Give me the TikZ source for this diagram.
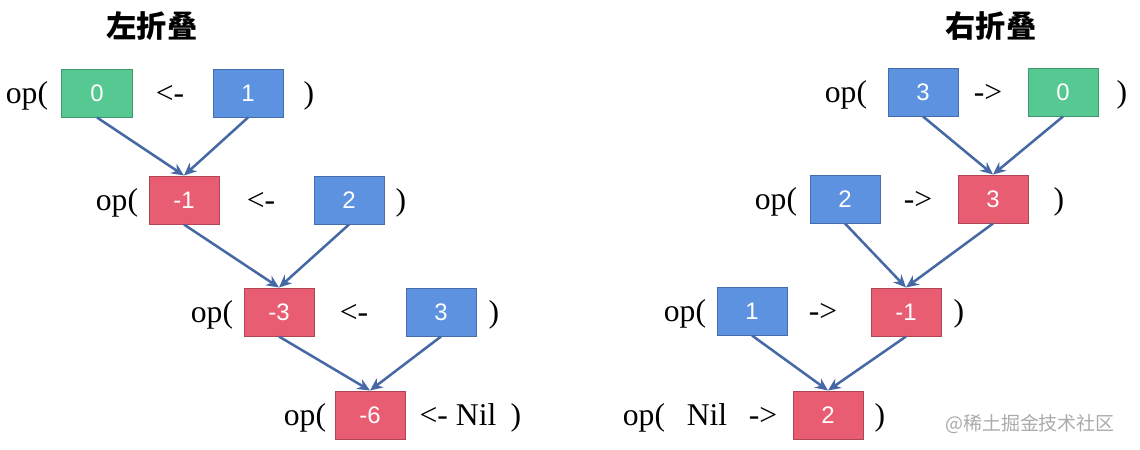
\documentclass[tikz,border=0pt]{standalone}
\usepackage{fontspec}
\setmainfont{Liberation Serif}
\setsansfont{Liberation Sans}
\newfontfamily\cjk{Noto Sans CJK SC}
\usetikzlibrary{arrows.meta}

\definecolor{foldgreen}{RGB}{86,200,145}
\definecolor{foldblue}{RGB}{93,146,225}
\definecolor{foldred}{RGB}{232,93,114}
\definecolor{foldline}{RGB}{70,105,165}
\definecolor{markgray}{RGB}{170,170,170}

\tikzset{
  cell/.style={minimum width=1.75cm,minimum height=1.2cm,inner sep=0pt,line width=0.7pt,
    font=\sffamily\fontsize{17}{20}\selectfont,text=white},
  gcell/.style={cell,fill=foldgreen,draw=foldgreen!75!black},
  bcell/.style={cell,fill=foldblue,draw=foldblue!75!black},
  rcell/.style={cell,fill=foldred,draw=foldred!75!black},
  word/.style={anchor=base,inner sep=0pt,font=\fontsize{22.5}{26}\selectfont},
  title/.style={inner sep=0pt,font=\cjk\bfseries\fontsize{21.5}{25}\selectfont},
  link/.style={draw=foldline,line width=1.8pt,-{Stealth[length=9pt,width=8pt]}}
}

\begin{document}
\begin{tikzpicture}[x=0.025cm,y=-0.025cm]
\useasboundingbox (0,0) rectangle (1140,449);
% left fold
\node (ltitle) at (152,26) [title] {左折叠};
\node (l11) at (97,93) [gcell] {0};
\node (l12) at (248,93) [bcell] {1};
\node (l21) at (184,200) [rcell] {-1};
\node (l22) at (349,200) [bcell] {2};
\node (l31) at (279,312) [rcell] {-3};
\node (l32) at (441,312) [bcell] {3};
\node (l41) at (370,415) [rcell] {-6};
\node (lop1) at (27,103) [word] {op(};
\node (lto1) at (170,103) [word] {<-};
\node (lcl1) at (309,103) [word] {)};
\node (lop2) at (117,210) [word] {op(};
\node (lto2) at (261,210) [word] {<-};
\node (lcl2) at (401,210) [word] {)};
\node (lop3) at (212,322) [word] {op(};
\node (lto3) at (354,322) [word] {<-};
\node (lcl3) at (494,322) [word] {)};
\node (lop4) at (305,425) [word] {op(};
\node (lto4) at (458,425) [word] {<- Nil};
\node (lcl4) at (516,425) [word] {)};
\draw[link] (l11.south) -- (l21.north);
\draw[link] (l12.south) -- (l21.north);
\draw[link] (l21.south) -- (l31.north);
\draw[link] (l22.south) -- (l31.north);
\draw[link] (l31.south) -- (l41.north);
\draw[link] (l32.south) -- (l41.north);
% right fold
\node (rtitle) at (991,26) [title] {右折叠};
\node (r11) at (923,92) [bcell] {3};
\node (r12) at (1063,92) [gcell] {0};
\node (r21) at (845,199) [bcell] {2};
\node (r22) at (993,199) [rcell] {3};
\node (r31) at (752,311) [bcell] {1};
\node (r32) at (906,312) [rcell] {-1};
\node (r41) at (828,415) [rcell] {2};
\node (rop1) at (846,102) [word] {op(};
\node (rto1) at (988,102) [word] {->};
\node (rcl1) at (1122,102) [word] {)};
\node (rop2) at (776,209) [word] {op(};
\node (rto2) at (918,209) [word] {->};
\node (rcl2) at (1059,209) [word] {)};
\node (rop3) at (685,321) [word] {op(};
\node (rto3) at (823,321) [word] {->};
\node (rcl3) at (959,321) [word] {)};
\node (rop4) at (644,425) [word] {op(};
\node (rnil) at (707,425) [word] {Nil};
\node (rto4) at (763,425) [word] {->};
\node (rcl4) at (880,425) [word] {)};
\draw[link] (r11.south) -- (r22.north);
\draw[link] (r12.south) -- (r22.north);
\draw[link] (r21.south) -- (r32.north);
\draw[link] (r22.south) -- (r32.north);
\draw[link] (r31.south) -- (r41.north);
\draw[link] (r32.south) -- (r41.north);
\node (mark) at (1030,424) [inner sep=0pt,text=markgray,font=\cjk\fontsize{13.5}{16}\selectfont] {@稀土掘金技术社区};
\end{tikzpicture}
\end{document}
